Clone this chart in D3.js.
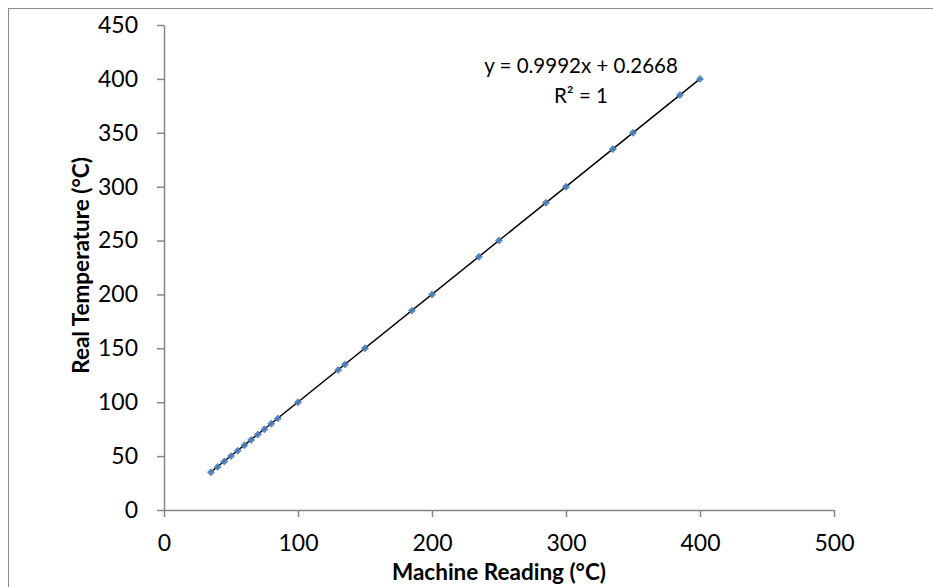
<!DOCTYPE html>
<html lang="en">
  <head>
    <meta charset="UTF-8" />
    <title>Machine Reading vs Real Temperature</title>
    <style>
      body {
        margin: 0;
        padding: 0;
        background-color: #ffffff;
        font-family: Lato, "Open Sans", sans-serif;
      }
      svg {
        display: block;
      }
      .tick text {
        font-size: 23px;
        fill: #000;
      }
      .axis-title {
        font-size: 22.5px;
        font-weight: bold;
      }
    </style>
  </head>
  <body>
    <div id="chart"></div>

    <script src="https://d3js.org/d3.v7.min.js"></script>
    <script>
      // machine reading (x) and real temperature (y), both in °C
      const machineReading = [35, 40, 45, 50, 55, 60, 65, 70, 75, 80, 85, 100,
        130, 135, 150, 185, 200, 235, 250, 285, 300, 335, 350, 385, 400];
      const realTemp = [35, 40, 45, 50, 55, 60, 65, 70, 75, 80, 85, 100,
        130, 135, 150, 185, 200, 235, 250, 285, 300, 335, 350, 385, 400];
      const xTicks = [0, 100, 200, 300, 400, 500];
      const yTicks = [0, 50, 100, 150, 200, 250, 300, 350, 400, 450];
      const trendSlope = 0.9992;
      const trendIntercept = 0.2668;
      const trendLabels = ["y = 0.9992x + 0.2668", "R² = 1"];

      const width = 933,
        height = 587;
      const margin = { top: 25, right: 99, bottom: 77, left: 164 };

      const svg = d3
        .select("#chart")
        .append("svg")
        .attr("width", width)
        .attr("height", height);

      // outer chart frame
      svg
        .append("rect")
        .attr("x", 8.5)
        .attr("y", 8.5)
        .attr("width", width)
        .attr("height", height)
        .attr("fill", "none")
        .attr("stroke", "#8c8c8c")
        .attr("stroke-width", 1);

      const x = d3
        .scaleLinear()
        .domain([0, 500])
        .range([margin.left, width - margin.right]);
      const y = d3
        .scaleLinear()
        .domain([0, 450])
        .range([height - margin.bottom, margin.top]);

      const xAxis = svg
        .append("g")
        .attr("transform", `translate(0,${height - margin.bottom})`)
        .call(d3.axisBottom(x).tickValues(xTicks).tickSize(7).tickSizeOuter(0).tickPadding(18));
      const yAxis = svg
        .append("g")
        .attr("transform", `translate(${margin.left},0)`)
        .call(d3.axisLeft(y).tickValues(yTicks).tickSize(7).tickSizeOuter(0).tickPadding(19));

      [xAxis, yAxis].forEach((g) => {
        g.select(".domain").attr("stroke", "#868686").attr("stroke-width", 1.5);
        g.selectAll(".tick line").attr("stroke", "#868686").attr("stroke-width", 1.5);
        g.selectAll(".tick text").attr("font-family", "Lato, sans-serif");
      });

      // trendline over the data range
      const xr = d3.extent(machineReading);
      svg
        .append("line")
        .attr("x1", x(xr[0]))
        .attr("y1", y(trendSlope * xr[0] + trendIntercept))
        .attr("x2", x(xr[1]))
        .attr("y2", y(trendSlope * xr[1] + trendIntercept))
        .attr("stroke", "#000")
        .attr("stroke-width", 1.5);

      const points = machineReading.map((d, i) => [d, realTemp[i]]);
      svg
        .selectAll("path.pt")
        .data(points)
        .enter()
        .append("path")
        .attr("class", "pt")
        .attr("d", d3.symbol().type(d3.symbolDiamond2).size(40))
        .attr("transform", (d) => `translate(${x(d[0])},${y(d[1])})`)
        .attr("fill", "#4a7ebb")
        .attr("opacity", 0.9);

      // equation label
      const eq = svg
        .append("text")
        .attr("text-anchor", "middle")
        .attr("font-size", 20.5)
        .attr("x", 581)
        .attr("y", 73);
      trendLabels.forEach((t, i) => {
        eq.append("tspan")
          .attr("x", 581)
          .attr("dy", i === 0 ? 0 : 30)
          .text(t);
      });

      svg
        .append("text")
        .attr("class", "axis-title")
        .attr("text-anchor", "middle")
        .attr("x", (x(0) + x(500)) / 2)
        .attr("y", 580)
        .text("Machine Reading (°C)");

      svg
        .append("text")
        .attr("class", "axis-title")
        .attr("text-anchor", "middle")
        .attr("transform", `translate(89,${(y(0) + y(450)) / 2 - 2}) rotate(-90)`)
        .text("Real Temperature (°C)");
    </script>
  </body>
</html>
